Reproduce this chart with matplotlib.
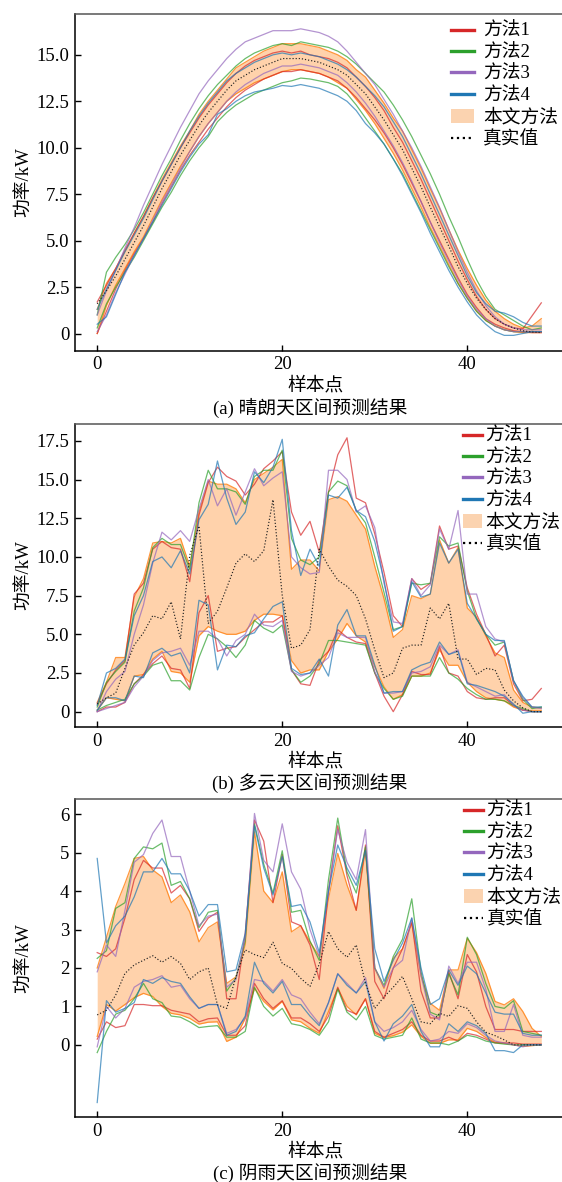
import matplotlib
matplotlib.use('Agg')
import matplotlib.pyplot as plt
from matplotlib.lines import Line2D
from matplotlib.patches import Patch
from matplotlib.ticker import FixedLocator, FuncFormatter

plt.rcParams['font.family'] = ['Liberation Serif', 'Noto Sans CJK SC']

x = list(range(49))

# (a) sunny
sunny_true = [1.6, 2.3, 3.1, 4.0, 4.9, 5.8, 6.8, 7.8, 8.7, 9.6, 10.4, 11.2, 11.9, 12.5, 13.1, 13.6, 13.9, 14.2, 14.4, 14.6,
              14.8, 14.8, 14.8, 14.7, 14.6, 14.4, 14.2, 13.9, 13.4, 12.9, 12.2, 11.5, 10.7, 9.9, 8.9, 7.9, 6.8, 5.75, 4.7, 3.6,
              2.7, 1.9, 1.3, 0.8, 0.5, 0.3, 0.15, 0.08, 0.05]
sunny_band_up = [1.3, 2.7, 3.5, 4.4, 5.4, 6.3, 7.3, 8.3, 9.2, 10.1, 10.9, 11.8, 12.5, 13.1, 13.7, 14.3, 14.6, 14.9, 15.2, 15.4,
                 15.6, 15.6, 15.6, 15.5, 15.4, 15.2, 15.0, 14.7, 14.2, 13.8, 13.1, 12.4, 11.6, 10.9, 9.9, 8.9, 7.8, 6.75, 5.6, 4.5,
                 3.5, 2.6, 1.8, 1.2, 0.8, 0.5, 0.3, 0.4, 0.8]
sunny_band_low = [0.0, 1.5, 2.6, 3.5, 4.4, 5.2, 6.2, 7.2, 8.1, 9.0, 9.8, 10.6, 11.3, 11.9, 12.5, 12.9, 13.2, 13.5, 13.7, 13.9,
                  14.1, 14.2, 14.2, 14.1, 14.0, 13.8, 13.5, 13.2, 12.6, 12.0, 11.3, 10.5, 9.7, 8.8, 7.8, 6.8, 5.7, 4.7, 3.7, 2.7,
                  1.9, 1.2, 0.7, 0.4, 0.2, 0.1, 0.05, 0.05, 0.05]
sunny_m1_up = [1.7, 2.6, 3.5, 4.5, 5.4, 6.3, 7.3, 8.2, 9.1, 10.0, 10.8, 11.6, 12.3, 12.9, 13.5, 14.0, 14.4, 14.7, 14.9, 15.1,
               15.2, 15.1, 15.2, 15.0, 14.9, 14.8, 14.6, 14.3, 13.8, 13.3, 12.7, 12.0, 11.1, 10.3, 9.3, 8.3, 7.2, 6.1, 5.0, 3.9,
               2.9, 2.0, 1.3, 0.8, 0.5, 0.3, 0.25, 0.95, 1.65]
sunny_m1_low = [0.0, 1.2, 2.4, 3.4, 4.3, 5.1, 6.0, 7.0, 7.9, 8.8, 9.6, 10.3, 11.0, 11.6, 12.2, 12.7, 13.1, 13.4, 13.7, 13.9,
                14.1, 14.1, 14.2, 14.1, 14.0, 13.8, 13.6, 13.2, 12.7, 12.1, 11.5, 10.8, 10.0, 9.1, 8.1, 7.1, 6.0, 5.0, 4.0, 3.0,
                2.1, 1.4, 0.8, 0.5, 0.3, 0.15, 0.1, 0.05, 0.05]
sunny_m2_up = [1.0, 3.3, 4.1, 4.8, 5.6, 6.5, 7.5, 8.5, 9.4, 10.4, 11.3, 12.1, 12.8, 13.4, 13.9, 14.4, 14.8, 15.1, 15.3, 15.5,
               15.6, 15.5, 15.7, 15.6, 15.5, 15.4, 15.2, 14.9, 14.5, 14.0, 13.5, 13.0, 12.3, 11.5, 10.6, 9.6, 8.6, 7.5, 6.3, 5.2,
               4.0, 2.9, 2.0, 1.3, 1.0, 0.7, 0.4, 0.2, 0.3]
sunny_m2_low = [0.3, 1.6, 2.5, 3.3, 4.1, 5.0, 5.9, 6.8, 7.6, 8.5, 9.3, 10.0, 10.6, 11.4, 11.9, 12.3, 12.6, 12.9, 13.1, 13.3,
                13.5, 13.6, 13.75, 13.7, 13.6, 13.5, 13.3, 12.9, 12.3, 11.6, 10.9, 10.2, 9.4, 8.6, 7.6, 6.6, 5.6, 4.6, 3.6, 2.7,
                1.9, 1.2, 0.7, 0.4, 0.2, 0.1, 0.1, 0.1, 0.1]
sunny_m3_up = [1.0, 2.3, 3.4, 4.6, 5.7, 6.9, 8.0, 9.1, 10.1, 11.1, 12.0, 12.9, 13.6, 14.2, 14.8, 15.3, 15.7, 15.9, 16.1, 16.3,
               16.3, 16.3, 16.4, 16.3, 16.2, 16.0, 15.7, 15.2, 14.6, 14.0, 13.4, 12.6, 11.8, 10.9, 10.0, 9.0, 7.9, 6.8, 5.6, 4.4,
               3.3, 2.3, 1.5, 0.9, 0.5, 0.3, 0.2, 0.2, 0.2]
sunny_m3_low = [0.1, 1.0, 2.2, 3.2, 4.2, 5.1, 6.1, 7.1, 8.0, 8.9, 9.8, 10.6, 11.3, 11.9, 12.5, 13.0, 13.4, 13.7, 14.0, 14.2,
                14.4, 14.4, 14.5, 14.4, 14.3, 14.1, 13.9, 13.5, 13.0, 12.4, 11.7, 10.9, 10.1, 9.2, 8.2, 7.1, 6.0, 4.9, 3.9, 2.9,
                2.0, 1.3, 0.8, 0.4, 0.2, 0.1, 0.1, 0.1, 0.1]
sunny_m4_up = [1.3, 2.4, 3.4, 4.4, 5.3, 6.2, 7.2, 8.2, 9.1, 10.0, 10.9, 11.7, 12.4, 13.0, 13.6, 14.0, 14.3, 14.6, 14.8, 15.0,
               15.1, 15.0, 15.1, 15.0, 14.9, 14.7, 14.5, 14.2, 13.8, 13.3, 12.8, 12.2, 11.4, 10.6, 9.6, 8.6, 7.5, 6.4, 5.3, 4.2,
               3.1, 2.2, 1.6, 1.2, 1.1, 0.9, 0.6, 0.4, 0.4]
sunny_m4_low = [0.5, 0.9, 2.1, 3.3, 4.2, 5.1, 6.0, 6.9, 7.8, 8.7, 9.5, 10.2, 10.7, 11.8, 12.1, 12.5, 12.8, 13.0, 13.1, 13.2,
                13.35, 13.3, 13.4, 13.3, 13.2, 13.0, 12.8, 12.5, 12.0, 11.3, 10.8, 10.2, 9.4, 8.5, 7.5, 6.5, 5.4, 4.4, 3.4, 2.5,
                1.7, 1.0, 0.5, 0.1, -0.1, -0.1, 0.0, 0.1, 0.1]

# (b) cloudy
cloudy_true = [0.5, 0.9, 1.2, 2.8, 4.3, 5.1, 6.2, 6.0, 7.1, 4.7, 10.1, 12.0, 5.7, 6.5, 8.0, 9.6, 10.2, 9.7, 10.4, 13.7,
               7.5, 4.1, 4.3, 5.3, 10.5, 9.4, 8.5, 8.1, 7.5, 6.0, 4.0, 2.2, 2.5, 4.1, 4.3, 4.3, 6.7, 6.0, 7.0, 3.4,
               3.4, 2.4, 2.8, 2.7, 1.4, 0.7, 0.25, 0.0, 0.0]
cloudy_band_up = [0.6, 1.9, 3.5, 3.5, 7.4, 8.6, 10.9, 11.0, 10.9, 11.2, 9.4, 12.9, 14.9, 14.7, 14.7, 14.4, 13.5, 15.0, 15.4, 15.8,
                  16.3, 9.2, 9.8, 9.8, 9.1, 13.7, 13.9, 13.6, 12.7, 11.8, 9.4, 7.3, 4.8, 5.3, 7.5, 7.3, 7.6, 11.1, 9.6, 10.6,
                  6.7, 6.1, 4.9, 3.8, 3.5, 1.4, 0.6, 0.3, 0.25]
cloudy_band_low = [0.1, 0.9, 0.8, 0.7, 2.3, 2.4, 3.4, 3.9, 2.6, 2.5, 1.9, 4.9, 5.5, 5.2, 5.0, 5.0, 5.2, 5.9, 6.3, 6.3,
                   6.2, 3.3, 2.5, 2.7, 2.7, 3.9, 4.7, 5.7, 4.9, 4.5, 2.9, 1.6, 0.8, 1.1, 2.3, 2.3, 2.5, 4.0, 3.0, 3.0,
                   1.9, 1.3, 0.9, 0.8, 0.7, 0.3, 0.1, 0.05, 0.05]
cloudy_m1_up = [0.5, 1.8, 2.7, 3.3, 7.6, 8.3, 10.5, 11.0, 10.6, 10.5, 8.4, 12.7, 14.8, 15.8, 15.2, 14.9, 14.0, 14.7, 15.7, 16.2,
                16.8, 12.9, 11.4, 12.3, 10.3, 14.2, 16.6, 17.7, 13.8, 13.5, 11.5, 9.0, 6.2, 5.5, 8.6, 7.9, 8.3, 12.0, 10.5, 10.7,
                8.0, 6.3, 5.0, 3.6, 4.3, 1.8, 0.7, 0.8, 1.5]
cloudy_m1_low = [0.0, 0.3, 0.3, 0.6, 1.8, 2.4, 3.1, 3.6, 2.8, 2.7, 1.5, 6.4, 7.5, 3.9, 4.1, 4.2, 4.8, 5.3, 5.8, 5.8,
                 6.2, 2.7, 1.8, 1.7, 3.3, 3.9, 5.3, 4.8, 4.5, 4.4, 2.5, 1.0, 0.0, 1.1, 2.6, 2.4, 2.4, 4.2, 2.5, 2.3,
                 1.3, 0.9, 0.8, 0.9, 0.9, 0.4, 0.1, 0.0, 0.0]
cloudy_m2_up = [0.3, 1.9, 2.6, 3.2, 6.5, 8.0, 10.6, 11.2, 10.8, 10.8, 9.2, 13.5, 15.6, 14.4, 14.4, 14.2, 13.4, 15.2, 15.6, 15.6,
                16.9, 11.2, 9.8, 9.5, 10.0, 14.2, 14.9, 14.6, 13.0, 12.2, 10.0, 7.7, 5.3, 5.5, 8.3, 8.2, 8.3, 11.3, 10.7, 10.9,
                7.8, 6.0, 5.0, 4.3, 4.5, 2.0, 0.8, 0.2, 0.3]
cloudy_m2_low = [0.1, 0.4, 0.6, 0.8, 1.8, 2.3, 3.0, 3.2, 2.0, 2.0, 1.4, 3.5, 5.0, 4.7, 4.2, 3.5, 4.3, 5.9, 5.4, 5.1,
                 5.6, 2.7, 1.9, 2.3, 3.1, 4.6, 4.6, 4.5, 4.4, 4.3, 2.5, 1.5, 0.8, 1.0, 2.3, 2.3, 2.3, 3.5, 2.5, 2.1,
                 1.5, 1.1, 0.8, 0.8, 0.7, 0.4, 0.2, 0.0, 0.0]
cloudy_m3_up = [0.0, 1.3, 2.1, 2.6, 5.0, 6.9, 9.6, 11.6, 11.1, 11.7, 11.0, 13.1, 15.0, 13.3, 14.4, 12.7, 14.2, 15.7, 14.6, 15.1,
                15.5, 10.0, 9.3, 8.9, 9.0, 15.6, 15.6, 15.0, 12.9, 13.3, 11.9, 8.3, 5.8, 5.7, 8.6, 7.5, 8.2, 11.8, 10.5, 13.0,
                7.6, 7.6, 5.5, 4.7, 4.5, 2.0, 0.9, 0.3, 0.2]
cloudy_m3_low = [0.0, 0.2, 0.4, 0.6, 1.6, 2.3, 3.3, 3.8, 3.9, 4.1, 3.0, 5.2, 5.2, 4.7, 3.6, 4.6, 5.0, 6.3, 5.6, 5.5,
                 5.9, 2.6, 2.3, 2.5, 3.0, 3.5, 5.1, 4.8, 4.8, 4.8, 2.6, 1.2, 1.2, 1.3, 2.5, 2.6, 2.9, 4.3, 3.7, 4.0,
                 1.9, 1.6, 1.3, 1.0, 1.1, 0.4, 0.1, 0.0, 0.0]
cloudy_m4_up = [0.4, 2.5, 2.8, 3.4, 6.2, 7.5, 9.7, 10.0, 9.3, 10.4, 8.9, 12.4, 13.4, 16.2, 13.8, 12.1, 12.9, 15.5, 14.8, 15.8,
                17.6, 11.7, 8.8, 10.5, 9.4, 14.0, 13.8, 14.5, 13.0, 12.6, 11.0, 8.5, 5.2, 5.5, 8.4, 7.4, 7.6, 10.9, 9.6, 10.5,
                7.0, 6.0, 5.0, 4.6, 4.6, 2.0, 1.0, 0.3, 0.3]
cloudy_m4_low = [0.1, 0.9, 0.9, 0.7, 2.3, 2.2, 3.8, 4.1, 3.6, 3.8, 2.5, 7.2, 6.9, 2.7, 4.3, 4.2, 4.9, 5.1, 6.0, 6.8,
                 7.1, 2.8, 2.4, 2.5, 3.4, 2.3, 5.6, 6.6, 4.9, 4.9, 3.0, 1.2, 1.3, 1.3, 2.7, 3.0, 3.2, 4.5, 3.7, 3.9,
                 1.8, 1.7, 1.5, 1.3, 1.0, 0.5, -0.1, 0.0, 0.0]

# (c) rainy
rainy_true = [0.78, 0.9, 1.3, 1.86, 2.08, 2.2, 2.32, 2.15, 2.3, 2.12, 1.7, 1.9, 2.0, 1.04, 0.95, 1.77, 2.47, 2.35, 2.27, 2.67,
              2.12, 1.99, 1.73, 1.52, 2.1, 2.95, 2.5, 2.28, 2.6, 1.6, 0.95, 1.25, 1.5, 1.78, 1.2, 0.6, 0.55, 0.82, 0.74, 1.02,
              0.95, 0.6, 0.33, 0.24, 0.13, 0.0, 0.0, 0.0, 0.0]
rainy_band_up = [2.0, 2.8, 3.6, 4.2, 4.85, 4.9, 4.55, 4.37, 3.7, 3.9, 3.46, 2.68, 3.05, 3.2, 1.6, 1.77, 2.6, 5.54, 4.0, 3.7,
                 4.5, 2.94, 3.1, 2.68, 2.3, 3.8, 4.98, 4.16, 3.5, 5.06, 2.0, 1.47, 2.25, 2.5, 3.16, 1.8, 1.08, 0.9, 1.95, 1.95,
                 2.77, 2.4, 1.86, 1.13, 1.04, 1.2, 0.87, 0.43, 0.22]
rainy_band_low = [0.22, 1.05, 0.88, 1.05, 1.23, 1.34, 1.26, 1.0, 0.82, 0.78, 0.69, 0.54, 0.59, 0.6, 0.09, 0.2, 0.69, 1.47, 1.13, 0.91,
                  1.13, 0.65, 0.6, 0.43, 0.3, 0.87, 1.47, 1.0, 0.78, 1.2, 0.3, 0.19, 0.24, 0.33, 0.52, 0.22, 0.04, 0.04, 0.13, 0.13,
                  0.43, 0.35, 0.19, 0.07, 0.04, 0.0, -0.04, -0.02, 0.0]
rainy_m1_up = [2.4, 2.3, 2.5, 3.3, 4.3, 4.8, 4.6, 4.6, 3.95, 4.15, 3.8, 2.95, 3.3, 3.45, 1.2, 1.2, 2.9, 5.85, 5.3, 3.7,
               4.95, 3.2, 3.1, 2.6, 1.7, 4.0, 5.7, 4.4, 3.5, 5.2, 1.65, 1.2, 2.0, 2.5, 3.2, 1.4, 0.7, 0.7, 1.9, 1.2,
               2.35, 1.9, 1.0, 0.4, 0.4, 0.4, 0.35, 0.35, 0.35]
rainy_m1_low = [0.15, 0.6, 0.45, 0.5, 1.05, 1.05, 1.02, 1.02, 0.9, 0.85, 0.8, 0.6, 0.68, 0.7, 0.25, 0.25, 0.5, 1.6, 1.2, 0.95,
                1.15, 0.7, 0.7, 0.55, 0.35, 0.75, 1.5, 0.9, 0.8, 1.2, 0.35, 0.2, 0.3, 0.4, 0.6, 0.25, 0.1, 0.1, 0.2, 0.1,
                0.3, 0.25, 0.15, 0.05, 0.05, 0.05, 0.02, 0.02, 0.02]
rainy_m2_up = [2.25, 2.45, 3.55, 3.7, 4.85, 5.15, 5.1, 5.25, 4.15, 4.25, 3.8, 3.05, 3.45, 3.5, 1.4, 1.75, 2.7, 5.75, 4.7, 3.95,
               5.05, 3.45, 3.5, 2.7, 2.2, 4.3, 5.9, 4.5, 3.95, 5.15, 2.0, 1.55, 2.3, 2.75, 3.8, 1.9, 0.85, 0.75, 1.85, 1.3,
               2.8, 2.35, 1.6, 1.0, 0.95, 1.15, 0.35, 0.3, 0.25]
rainy_m2_low = [-0.2, 0.35, 0.8, 0.9, 1.2, 1.6, 1.2, 1.1, 0.75, 0.72, 0.6, 0.45, 0.48, 0.5, 0.2, 0.2, 0.35, 1.5, 1.0, 0.75,
                0.95, 0.55, 0.5, 0.4, 0.25, 0.6, 1.45, 0.85, 0.65, 1.0, 0.25, 0.15, 0.2, 0.25, 0.7, 0.15, 0.05, 0.05, 0.0, 0.1,
                0.25, 0.2, 0.1, 0.05, 0.02, 0.0, 0.0, 0.0, 0.0]
rainy_m3_up = [1.9, 2.6, 2.3, 3.5, 4.75, 4.95, 5.5, 5.85, 4.9, 4.9, 4.0, 3.1, 3.35, 3.4, 1.5, 1.7, 2.8, 6.02, 4.8, 4.5,
               5.75, 4.5, 4.05, 3.0, 2.3, 4.0, 5.6, 4.75, 4.3, 5.6, 2.0, 1.5, 2.0, 2.2, 3.3, 1.8, 0.8, 0.65, 2.05, 1.6,
               2.15, 2.15, 1.45, 0.35, 0.35, 1.05, 0.25, 0.2, 0.2]
rainy_m3_low = [-0.05, 1.0, 0.7, 0.95, 1.5, 1.65, 1.7, 1.8, 1.5, 1.55, 1.2, 0.95, 1.05, 1.05, 0.3, 0.4, 0.7, 1.7, 1.65, 1.4,
                1.7, 1.3, 1.2, 0.85, 0.55, 1.1, 1.85, 1.6, 1.35, 1.75, 0.6, 0.35, 0.45, 0.6, 0.9, 0.4, 0.1, 0.15, 0.35, 0.3,
                0.55, 0.45, 0.25, 0.1, 0.05, 0.0, -0.05, 0.0, 0.0]
rainy_m4_up = [4.85, 2.65, 3.1, 3.35, 3.85, 4.5, 4.5, 4.85, 4.45, 4.45, 4.0, 3.35, 3.65, 3.65, 1.9, 1.95, 2.9, 5.7, 4.6, 3.9,
               4.9, 3.6, 3.65, 3.2, 2.4, 4.0, 5.2, 4.6, 4.15, 5.05, 2.5, 1.65, 2.2, 2.65, 3.3, 2.0, 1.05, 1.2, 1.95, 1.55,
               2.05, 1.85, 1.35, 0.85, 0.8, 0.8, 0.3, 0.25, 0.25]
rainy_m4_low = [-1.5, 1.15, 0.85, 0.95, 1.1, 1.7, 1.6, 1.75, 1.65, 1.6, 1.25, 0.95, 1.05, 1.05, 0.25, 0.35, 0.75, 2.15, 1.6, 1.35,
                1.65, 1.05, 1.05, 0.75, 0.5, 1.1, 1.85, 1.55, 1.35, 1.65, 0.6, 0.1, 0.55, 0.75, 1.05, 0.35, -0.05, -0.05, 0.55, 0.35,
                0.6, 0.5, 0.3, -0.15, -0.15, -0.2, 0.0, 0.0, 0.0]

method_names = ['方法1', '方法2', '方法3', '方法4']
method_colors = ['#d62728', '#2ca02c', '#9467bd', '#1f77b4']
captions = ['(a) 晴朗天区间预测结果', '(b) 多云天区间预测结果', '(c) 阴雨天区间预测结果']
yticks_list = [[0, 2.5, 5.0, 7.5, 10.0, 12.5, 15.0],
               [0, 2.5, 5.0, 7.5, 10.0, 12.5, 15.0, 17.5],
               [0, 1, 2, 3, 4, 5, 6]]

panels = [
    dict(true=sunny_true, band=(sunny_band_low, sunny_band_up),
         methods=[(sunny_m1_low, sunny_m1_up), (sunny_m2_low, sunny_m2_up),
                  (sunny_m3_low, sunny_m3_up), (sunny_m4_low, sunny_m4_up)]),
    dict(true=cloudy_true, band=(cloudy_band_low, cloudy_band_up),
         methods=[(cloudy_m1_low, cloudy_m1_up), (cloudy_m2_low, cloudy_m2_up),
                  (cloudy_m3_low, cloudy_m3_up), (cloudy_m4_low, cloudy_m4_up)]),
    dict(true=rainy_true, band=(rainy_band_low, rainy_band_up),
         methods=[(rainy_m1_low, rainy_m1_up), (rainy_m2_low, rainy_m2_up),
                  (rainy_m3_low, rainy_m3_up), (rainy_m4_low, rainy_m4_up)]),
]

W, H = 562, 1182
fig = plt.figure(figsize=(W / 100, H / 100), dpi=100)

# pixel layout (top, bottom) of each axes box, legend anchor, caption y
boxes = [(13.5, 350.7), (424, 727), (799, 1117)]
legend_anchor = [(451, 23), (463, 428), (464, 803)]
handle_len = [1.25, 1.0, 1.0]
text_pad = [0.45, 0.2, 0.2]
caption_y = [408, 783, 1173]
left_px, right_px = 75, 563.5
fs = 13.5

peach = '#ff7f0e'

for i, p in enumerate(panels):
    top, bot = boxes[i]
    ax = fig.add_axes([left_px / W, 1 - bot / H, (right_px - left_px) / W, (bot - top) / H])

    lo, up = p['band']
    ax.fill_between(x, lo, up, color=peach, alpha=0.35, lw=0, zorder=1)
    ax.plot(x, lo, color=peach, lw=0.9, alpha=0.8, zorder=2)
    ax.plot(x, up, color=peach, lw=0.9, alpha=0.8, zorder=2)

    for (mlo, mup), c in zip(p['methods'], method_colors):
        ax.plot(x, mup, color=c, lw=0.9, alpha=0.7, zorder=3)
        ax.plot(x, mlo, color=c, lw=0.9, alpha=0.7, zorder=3)

    ax.plot(x, p['true'], color='#222222', ls=':', lw=0.85, zorder=4)

    ax.yaxis.set_major_locator(FixedLocator(yticks_list[i]))
    if i < 2:
        ax.yaxis.set_major_formatter(FuncFormatter(lambda v, pos: '0' if v == 0 else f'{v:.1f}'))
    else:
        ax.yaxis.set_major_formatter(FuncFormatter(lambda v, pos: f'{v:.0f}'))
    ax.set_xticks([0, 20, 40])
    ax.tick_params(direction='in', length=4.5, width=1, labelsize=fs, top=False, right=False, pad=4)

    for s in ['left', 'bottom']:
        ax.spines[s].set_color('black')
        ax.spines[s].set_linewidth(1.1)
    ax.spines['top'].set_color('#555555')
    ax.spines['top'].set_linewidth(1.1)
    ax.spines['right'].set_visible(False)

    h_px = bot - top
    ax.set_ylabel('功率/kW', fontsize=fs, va='center')
    ax.yaxis.set_label_coords((25 - left_px) / (right_px - left_px), 0.5)
    ax.set_xlabel('样本点', fontsize=fs, va='center')
    ax.xaxis.set_label_coords((316 - left_px) / (right_px - left_px), -35 / h_px)

    handles = [Line2D([], [], color=c, lw=2.4) for c in method_colors]
    handles.append(Patch(facecolor='#fbd3b0', edgecolor='none'))
    handles.append(Line2D([], [], color='black', ls=':', lw=1.6))
    labels = method_names + ['本文方法', '真实值']
    ax_, ay_ = legend_anchor[i]
    fig.legend(handles, labels, loc='upper left', bbox_to_anchor=(ax_ / W, 1 - ay_ / H),
               bbox_transform=fig.transFigure, frameon=False, fontsize=fs,
               handlelength=handle_len[i], handletextpad=text_pad[i],
               labelspacing=0.23, borderpad=0, borderaxespad=0)

    fig.text(310 / W, 1 - caption_y[i] / H, captions[i], ha='center', va='center', fontsize=fs)

fig.savefig('out.png', dpi=100)
